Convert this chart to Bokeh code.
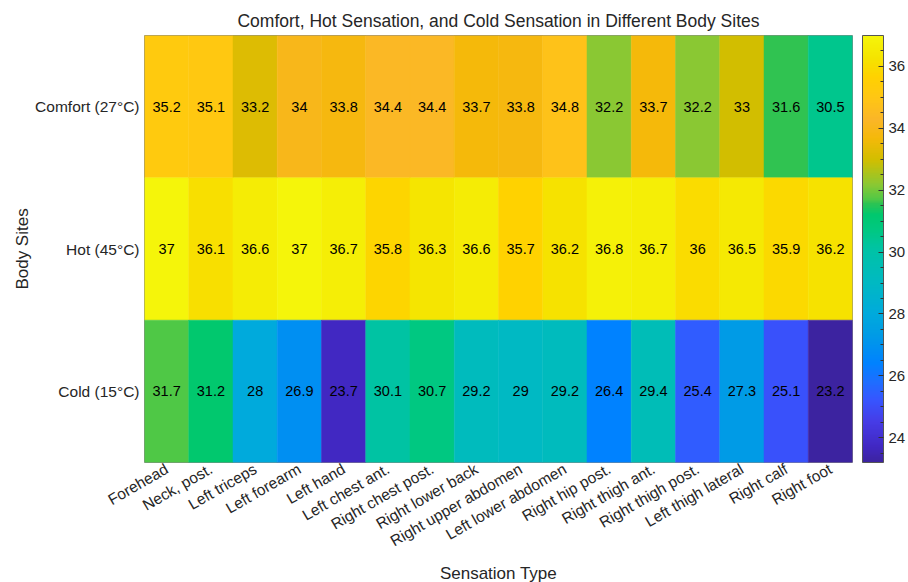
import math
import numpy as np
from bokeh.plotting import figure
from bokeh.models import ColumnDataSource, LinearColorMapper, ColorBar, FixedTicker
from bokeh.core.properties import value
from bokeh.embed import file_html
from bokeh.resources import INLINE

# ---------------- data ----------------
sites = ["Forehead", "Neck, post.", "Left triceps", "Left forearm", "Left hand",
         "Left chest ant.", "Right chest post.", "Right lower back",
         "Right upper abdomen", "Left lower abdomen", "Right hip post.",
         "Right thigh ant.", "Right thigh post.", "Left thigh lateral",
         "Right calf", "Right foot"]
conditions = ["Comfort (27°C)", "Hot (45°C)", "Cold (15°C)"]
comfort = [35.2, 35.1, 33.2, 34, 33.8, 34.4, 34.4, 33.7, 33.8, 34.8, 32.2, 33.7, 32.2, 33, 31.6, 30.5]
hot = [37, 36.1, 36.6, 37, 36.7, 35.8, 36.3, 36.6, 35.7, 36.2, 36.8, 36.7, 36, 36.5, 35.9, 36.2]
cold = [31.7, 31.2, 28, 26.9, 23.7, 30.1, 30.7, 29.2, 29, 29.2, 26.4, 29.4, 25.4, 27.3, 25.1, 23.2]
cbar_ticks = [24, 26, 28, 30, 32, 34, 36]

# ---------------- colormap (parula-like, as seen in the reference) ----------------
cmap_pos = [0.0, 0.036, 0.094, 0.145, 0.188, 0.232, 0.297, 0.348, 0.420, 0.500,
            0.543, 0.580, 0.609, 0.616, 0.652, 0.710, 0.761, 0.804, 0.855, 0.906, 0.949, 1.0]
cmap_rgb = [(60, 35, 160), (65, 40, 195), (70, 60, 230), (55, 85, 255), (30, 110, 255),
            (0, 130, 255), (0, 155, 230), (0, 170, 220), (0, 185, 195), (0, 195, 165),
            (0, 200, 130), (0, 200, 110), (50, 195, 80), (80, 200, 70), (140, 200, 50),
            (210, 190, 0), (245, 185, 10), (250, 182, 40), (255, 198, 20), (255, 210, 0),
            (245, 228, 0), (245, 245, 10)]
_pos = np.array(cmap_pos)
_rgb = np.array(cmap_rgb, dtype=float)
palette = []
for t in np.linspace(0, 1, 256):
    c = [int(round(np.interp(t, _pos, _rgb[:, k]))) for k in range(3)]
    palette.append("#%02x%02x%02x" % tuple(c))

all_vals = comfort + hot + cold
mapper = LinearColorMapper(palette=palette, low=min(all_vals), high=max(all_vals))

xs, ys, vs, labels = [], [], [], []
for cond, row in zip(conditions, [comfort, hot, cold]):
    for s, v in zip(sites, row):
        xs.append(s)
        ys.append(cond)
        vs.append(v)
        labels.append(f"{v:g}")
src = ColumnDataSource(dict(x=xs, y=ys, v=vs, label=labels))

FONT = "Liberation Sans"
TXT = "#262626"

p = figure(x_range=sites, y_range=conditions[::-1],
           frame_width=708, frame_height=427,
           min_border_left=144, min_border_top=35, min_border_right=0, min_border_bottom=4,
           output_backend="svg", toolbar_location=None,
           title="Comfort, Hot Sensation, and Cold Sensation in Different Body Sites")

p.rect(x="x", y="y", width=1, height=1, source=src,
       fill_color={"field": "v", "transform": mapper},
       line_color={"field": "v", "transform": mapper}, line_width=0.5)
p.text(x="x", y="y", text="label", source=src, text_align="center", text_baseline="middle",
       text_font=value(FONT), text_font_size="14.5px", text_color="black")

p.title.align = "center"
p.title.text_font = FONT
p.title.text_font_size = "17.5px"
p.title.text_font_style = "normal"
p.title.text_color = TXT
p.title.standoff = 10

p.grid.grid_line_color = None
p.outline_line_color = "#8a8a8a"
p.outline_line_width = 1
p.background_fill_color = "white"
p.border_fill_color = "white"

for ax in (p.xaxis[0], p.yaxis[0]):
    ax.axis_line_color = None
    ax.major_tick_line_color = None
    ax.minor_tick_line_color = None
    ax.major_tick_out = 0
    ax.major_tick_in = 0
    ax.minor_tick_out = 0
    ax.minor_tick_in = 0
    ax.major_label_text_font = FONT
    ax.major_label_text_font_size = "15.5px"
    ax.major_label_text_color = TXT
    ax.axis_label_text_font = FONT
    ax.axis_label_text_font_size = "17px"
    ax.axis_label_text_font_style = "normal"
    ax.axis_label_text_color = TXT

p.xaxis.axis_label = "Sensation Type"
p.yaxis.axis_label = "Body Sites"
p.xaxis.major_label_orientation = math.pi / 6
p.xaxis.major_label_standoff = 5
p.yaxis.major_label_standoff = 5
p.xaxis.axis_label_standoff = 4
p.yaxis.axis_label_standoff = 0

minor = [m / 2 for m in range(47, 74) if m % 4 != 0]
cb = ColorBar(color_mapper=mapper,
              ticker=FixedTicker(ticks=cbar_ticks, minor_ticks=minor),
              width=21, height=427, padding=0, margin=0,
              location=(10, 0),
              bar_line_color="#555555", bar_line_width=1,
              major_tick_line_color="#333333", major_tick_in=5, major_tick_out=0,
              minor_tick_line_color="#333333", minor_tick_in=3, minor_tick_out=0,
              major_label_text_font=FONT, major_label_text_font_size="15px",
              major_label_text_color=TXT, label_standoff=5)
p.add_layout(cb, "right")

open("out.html", "w").write(file_html(p, INLINE))
